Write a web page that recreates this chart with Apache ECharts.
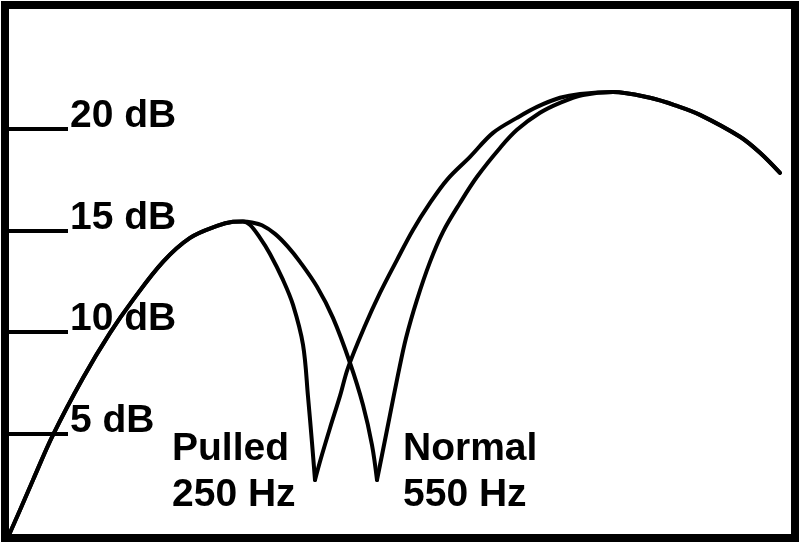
<!DOCTYPE html>
<html>
<head>
<meta charset="utf-8">
<script src="https://cdn.jsdelivr.net/npm/echarts@6/dist/echarts.min.js"></script>
<style>
html,body{margin:0;padding:0;background:#fff;}
#chart{width:800px;height:543px;}
</style>
</head>
<body>
<div id="chart"></div>
<script>
// Tick values (dB) shown on the left
const tickValues = [5, 10, 15, 20];
const tickUnit = ' dB';

// Shared rising part of both curves (x: relative frequency units, y: dB)
const sharedRise = [[0,0],[1.41,1.23],[3.07,2.71],[5.63,4.93],[9.46,7.73],[12.92,9.95],[15.86,11.58],[19.69,13.45],[23.15,14.63],[26.60,15.22],[28.64,15.42],[29.92,15.44]];

// "Pulled 250 Hz": fall into the first null (last point = null)
const pulledFall = [[30.82,15.27],[32.10,14.63],[33.38,13.84],[35.04,12.56],[36.32,11.33],[37.60,9.36],[38.24,6.80],[38.75,4.53],[39.13,2.71]];
// "Pulled 250 Hz": rise out of the null to the second lobe
const pulledRise = [[39.90,3.79],[41.05,5.27],[42.33,6.85],[43.35,8.23],[45.52,10.30],[47.44,11.92],[49.62,13.55],[51.66,15.02],[53.84,16.35],[56.01,17.49],[58.95,18.62],[61.89,19.80],[64.96,20.54],[67.52,21.08],[70.46,21.53],[73.02,21.72],[77.24,21.82]];

// "Normal 550 Hz": fall into the null (last point = null)
const normalFall = [[31.07,15.39],[32.35,15.25],[34.02,14.83],[35.68,14.19],[37.21,13.45],[39.39,12.22],[41.43,10.69],[43.61,8.47],[45.27,6.40],[46.42,4.43],[47.06,2.71]];
// "Normal 550 Hz": rise out of the null
const normalRise = [[47.70,3.94],[48.72,5.91],[49.74,7.88],[50.77,9.70],[52.17,11.58],[53.84,13.45],[55.50,14.93],[57.67,16.35],[59.85,17.64],[62.79,19.06],[64.96,19.95],[67.90,20.79],[70.46,21.28],[73.40,21.67],[77.24,21.82]];

// Shared falling part of the second lobe
const sharedFall = [[81.97,21.53],[85.42,21.13],[88.36,20.69],[93.48,19.61],[96.04,18.82],[98.59,17.83]];

const pulledLabel = 'Pulled\n250 Hz';
const normalLabel = 'Normal\n550 Hz';

// Each curve is drawn in two smooth pieces that meet at its sharp null
const pulledA = sharedRise.concat(pulledFall);
const pulledB = [pulledFall[pulledFall.length - 1]].concat(pulledRise, sharedFall);
const normalA = sharedRise.concat(normalFall);
const normalB = [normalFall[normalFall.length - 1]].concat(normalRise, sharedFall);

const FONT = "'Liberation Sans', Arial, sans-serif";
const chart = echarts.init(document.getElementById('chart'), null, {renderer: 'canvas'});
const lineSeries = (name, data) => ({
  name, type: 'line', data, symbol: 'none', smooth: 0.35,
  lineStyle: {color: '#000', width: 4, cap: 'round', join: 'round'}, animation: false, clip: true
});
chart.setOption({
  backgroundColor: '#fff',
  animation: false,
  grid: {left: 9, right: 9, top: 7, bottom: 8},
  xAxis: {type: 'value', min: 0, max: 100, show: false},
  yAxis: {
    type: 'value', min: 0, max: 26, interval: 5,
    axisLine: {show: false},
    splitLine: {show: false},
    axisTick: {show: true, inside: true, length: 59, customValues: tickValues,
      lineStyle: {color: '#000', width: 4}},
    axisLabel: {show: true, inside: true, margin: 61, customValues: tickValues,
      formatter: v => v + tickUnit,
      color: '#000', fontFamily: FONT, fontWeight: 'bold', fontSize: 39,
      verticalAlign: 'bottom', lineHeight: 25}
  },
  series: [
    lineSeries('Pulled 250 Hz', pulledA), lineSeries('Pulled 250 Hz', pulledB),
    lineSeries('Normal 550 Hz', normalA), lineSeries('Normal 550 Hz', normalB)
  ],
  graphic: [
    {type: 'text', left: 172, top: 426, z: 10,
      style: {text: pulledLabel, font: "bold 39px " + FONT, fill: '#000', lineHeight: 46}},
    {type: 'text', left: 403, top: 426, z: 10,
      style: {text: normalLabel, font: "bold 39px " + FONT, fill: '#000', lineHeight: 46}},
    {type: 'rect', z: 20, shape: {x: 5, y: 5, width: 790, height: 533},
      style: {fill: 'none', stroke: '#000', lineWidth: 8}}
  ]
});
</script>
</body>
</html>
